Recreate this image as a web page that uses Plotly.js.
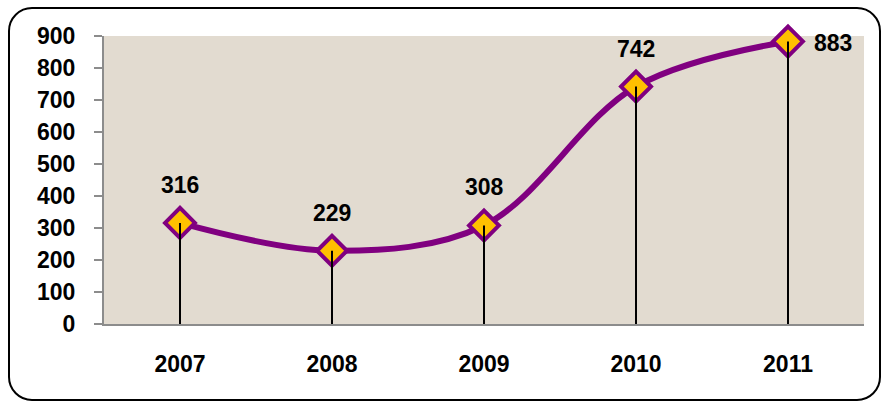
<!DOCTYPE html>
<html>
<head>
<meta charset="utf-8">
<script src="https://cdn.plot.ly/plotly-3.0.1.min.js"></script>
<style>
  body { margin: 0; background: #fff; }
  #wrap { position: relative; width: 882px; height: 403px; }
  #grafico { width: 882px; height: 403px; }
  #moldura {
    position: absolute; left: 8px; top: 7px; width: 869px; height: 390px;
    border: 2px solid #000; border-radius: 24px; pointer-events: none;
  }
</style>
</head>
<body>
<div id="wrap">
  <div id="grafico"></div>
  <div id="moldura"></div>
</div>
<script>
// Dados
const anos = ["2007", "2008", "2009", "2010", "2011"];
const valores = [316, 229, 308, 742, 883];
const rotulos = ["316", "229", "308", "742", "883"];
const posRotulo = ["top", "top", "top", "top", "right"];

const familia = "Liberation Sans, Arial, sans-serif";

// linha suavizada com marcadores
let linha = {
  x: anos,
  y: valores,
  mode: "lines+markers",
  cliponaxis: false,
  line: { color: "#800080", width: 6, shape: "spline", smoothing: 1 },
  marker: {
    symbol: "diamond", size: 23, color: "#ffc000",
    line: { color: "#800080", width: 4 }
  },
  hoverinfo: "skip"
};

// linhas verticais ate o eixo (por cima dos marcadores)
let quedas = {
  x: anos,
  y: valores,
  mode: "markers",
  cliponaxis: false,
  marker: { size: 1, opacity: 0 },
  error_y: {
    type: "data", symmetric: false,
    array: valores.map(() => 0), arrayminus: valores,
    color: "#000", thickness: 2, width: 0
  },
  hoverinfo: "skip"
};

// rotulos dos valores
let anotacoes = anos.map((a, i) => ({
  xref: "x", yref: "y",
  x: i, y: valores[i], text: rotulos[i],
  showarrow: false,
  font: { family: familia, size: 23, color: "#000", weight: "bold" },
  xshift: posRotulo[i] === "right" ? 45 : 0,
  yshift: posRotulo[i] === "right" ? -2 : 38
}));

let layout = {
  width: 882, height: 403,
  margin: { l: 104, r: 18, t: 36, b: 79 },
  paper_bgcolor: "#fff",
  plot_bgcolor: "#e2dbd0",
  showlegend: false,
  xaxis: {
    type: "category", range: [-0.5, 4.5],
    showline: true, linecolor: "#8c8c8c", linewidth: 2,
    ticks: "", showgrid: false, zeroline: false,
    tickfont: { family: familia, size: 23, color: "#000", weight: "bold" },
    ticklabelstandoff: 18
  },
  yaxis: {
    range: [0, 900], dtick: 100, tick0: 0,
    showline: true, linecolor: "#8c8c8c", linewidth: 2,
    ticks: "outside", ticklen: 8, tickcolor: "#8c8c8c", tickwidth: 2,
    showgrid: false, zeroline: false,
    tickfont: { family: familia, size: 23, color: "#000", weight: "bold" },
    ticklabelstandoff: 14
  },
  annotations: anotacoes
};

Plotly.newPlot("grafico", [linha, quedas], layout, { displayModeBar: false, staticPlot: true });
</script>
</body>
</html>
